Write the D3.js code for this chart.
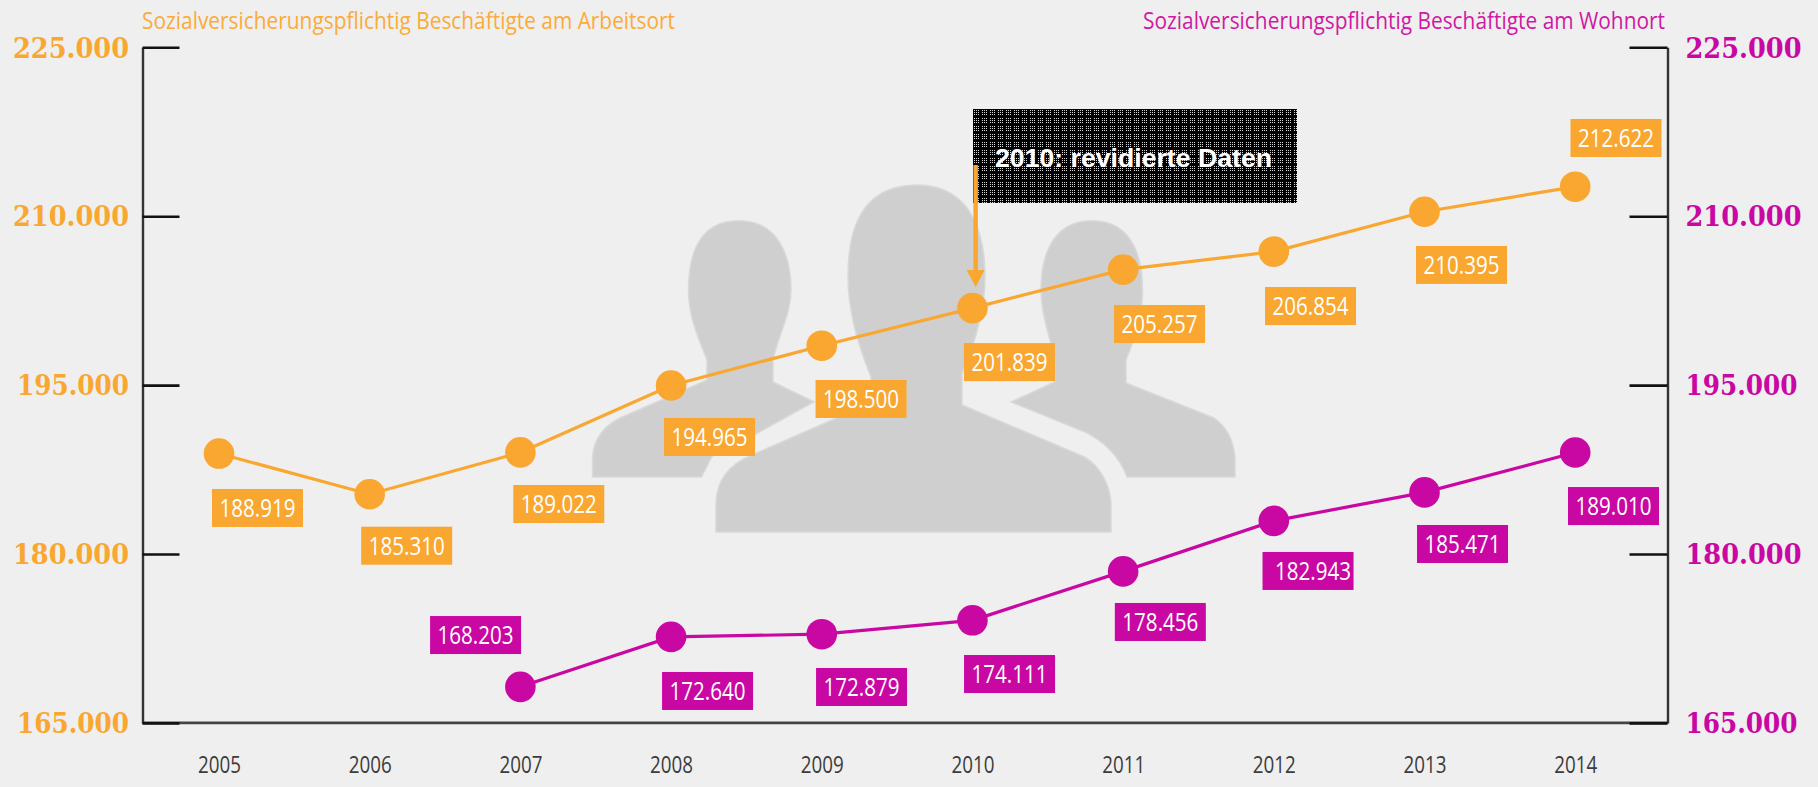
<!DOCTYPE html>
<html lang="de">
<head>
<meta charset="utf-8">
<script src="https://cdn.jsdelivr.net/npm/d3@7/dist/d3.min.js"></script>
<style>
html,body{margin:0;padding:0;background:#efefef;overflow:hidden}
svg{display:block}
text{font-family:"Open Sans","Noto Sans",sans-serif}
</style>
</head>
<body>
<svg id="chart" width="1818" height="787"></svg>
<script>
// ---- data ----
const years = [2005,2006,2007,2008,2009,2010,2011,2012,2013,2014];
const arbeitsort = [188919,185310,189022,194965,198500,201839,205257,206854,210395,212622];
const wohnort = [null,null,168203,172640,172879,174111,178456,182943,185471,189010];
const yTicks = [165000,180000,195000,210000,225000];
const titleArbeitsort = "Sozialversicherungspflichtig Beschäftigte am Arbeitsort";
const titleWohnort = "Sozialversicherungspflichtig Beschäftigte am Wohnort";
const noteText = "2010: revidierte Daten";
const noteYear = 2010;

// ---- label placement relative to each point: centre dx, box-top dy ----
const arbeitsortDx = [38.5,37,38.4,38.5,39.3,37,36.4,36.7,37,40.8];
const arbeitsortDy = [35.4,32.5,32.6,32.5,34.3,35,35.4,35.4,34.2,-67.7];
const wohnortDx = [0,0,-44.8,36.5,39.8,37.1,37.2,34.2,38,38.3];
const wohnortDy = [0,0,-70.8,35.1,33.8,34.7,31.6,31.1,32.6,34.5];
const wohnortTextShift = [0,0,0,0,0,0,0,5,0,0];

// ---- styles ----
const orange = "#f9a730", magenta = "#c908a4", bg = "#efefef", grey = "#cfcfcf";
const frame = {left:142.5, right:1667.5, top:47.3, bottom:722.9};
const boxW = 91, boxH = 38, r = 15.3;

const svg = d3.select("#chart");
svg.append("rect").attr("width",1818).attr("height",787).attr("fill",bg);

const de = d3.formatLocale({decimal:",",thousands:".",grouping:[3],currency:["","€"]});
const fmt = de.format(",");

const x = d3.scalePoint().domain(years).range([219,1575.2]);
const y = d3.scaleLinear().domain([165000,225000]).range([frame.bottom,frame.top]);

// ---- silhouettes ----
const people = [
 // left person
 "M592.5,477 L592.5,457 C594,438 604,426 620,418 L707,380 L707,360 C697,335 688.5,315 688.5,290 C688.5,262 695,220.7 738.5,220.7 C782,220.7 791,262 791,290 C791,315 778,335 773,360 L773,382 L814,401.7 L745,440 C728,447 716,452 711.7,457 L701.4,477 Z",
 // right person
 "M1235,477 L1235,457 C1233,438 1226,426 1214,418 L1126,383 L1126,360 C1136,335 1142.5,315 1142.5,290 C1142.5,262 1135,220.7 1092,220.7 C1049,220.7 1041,262 1041,290 C1041,315 1050,335 1054.5,360 L1054.5,382 L1011,402 L1084.5,431.7 C1105,442 1120,458 1127,477 Z",
 // centre person
 "M716,532 L716,503 C717,480 728,465 752,455 L871,403 L871,377 C860,350 848,315 848,277 C848,240 855,185 917,185 C975,185 985,240 985,277 C985,315 972,350 962,373 L962,405 L1084.5,457 C1100,466 1110,485 1111,503 L1111,532 Z"
];
svg.append("g").selectAll("path").data(people).join("path")
  .attr("d",d=>d).attr("fill",grey).attr("stroke","#d9d9d9").attr("stroke-width",1.5);

// baseline
svg.append("line").attr("x1",frame.left).attr("x2",frame.right)
  .attr("y1",frame.bottom).attr("y2",frame.bottom)
  .attr("stroke","#444").attr("stroke-width",2.6);

// ---- axes ----
function styleAxis(g, side){
  g.select(".domain").attr("stroke","#333").attr("stroke-width",2.4);
  g.selectAll(".tick line").attr("stroke","#111").attr("stroke-width",2.6);
  g.selectAll(".tick text")
    .attr("fill",side==="left"?orange:magenta)
    .style("font-family","'DejaVu Serif',serif")
    .style("font-weight",700)
    .style("font-size","27px")
    .attr("dy","0.36em")
    .attr("x",side==="left"?-13.5:18)
    .attr("textLength",d=>(d===165000||d===195000)?112:116)
    .attr("lengthAdjust","spacingAndGlyphs");
}
const axL = d3.axisLeft(y).tickValues(yTicks).tickFormat(fmt).tickSize(-37).tickSizeOuter(0);
const axR = d3.axisRight(y).tickValues(yTicks).tickFormat(fmt).tickSize(-38).tickSizeOuter(0);
svg.append("g").attr("transform",`translate(${frame.left},0)`).call(axL).call(styleAxis,"left");
svg.append("g").attr("transform",`translate(${frame.right},0)`).call(axR).call(styleAxis,"right");

const axB = d3.axisBottom(x).tickSize(0).tickPadding(0);
const gB = svg.append("g").attr("transform",`translate(0,${frame.bottom})`).call(axB);
gB.select(".domain").remove();
gB.selectAll(".tick text").attr("fill","#3c3c3c").style("font-size","24px").attr("y",42)
  .attr("dy","0.32em").attr("textLength",43).attr("lengthAdjust","spacingAndGlyphs");

// ---- titles ----
svg.append("text").text(titleArbeitsort).attr("x",142).attr("y",29)
  .attr("fill","#fbab38").style("font-size","24px")
  .attr("textLength",533).attr("lengthAdjust","spacingAndGlyphs");
svg.append("text").text(titleWohnort).attr("x",1143).attr("y",28.5)
  .attr("fill","#d018a4").style("font-size","24px")
  .attr("textLength",522).attr("lengthAdjust","spacingAndGlyphs");

// ---- annotation ----
const defs = svg.append("defs");
const pat = defs.append("pattern").attr("id","dither").attr("patternUnits","userSpaceOnUse")
  .attr("x",973).attr("y",109).attr("width",8).attr("height",8);
pat.append("rect").attr("width",8).attr("height",8).attr("fill","#000");
const dotPos=[1,3,5];
dotPos.forEach(a=>dotPos.forEach(b=>pat.append("rect").attr("x",a).attr("y",b).attr("width",1).attr("height",1).attr("fill","#d8d8d8")));
svg.append("rect").attr("x",973).attr("y",109).attr("width",324).attr("height",94).attr("fill","url(#dither)");
svg.append("text").text(noteText).attr("x",995).attr("y",166.5).attr("fill","#fff")
  .style("font-family","'Liberation Sans',Arial,sans-serif").style("font-weight",700).style("font-size","26px")
  .attr("textLength",277).attr("lengthAdjust","spacingAndGlyphs");

// ---- series ----
function drawSeries(values,color,dx,dy,shift){
  const pts = years.map((yr,i)=>({yr,v:values[i],i})).filter(d=>d.v!==null);
  const line = d3.line().x(d=>x(d.yr)).y(d=>y(d.v));
  svg.append("path").attr("d",line(pts)).attr("fill","none").attr("stroke",color).attr("stroke-width",3.2);
  svg.append("g").selectAll("circle").data(pts).join("circle")
    .attr("cx",d=>x(d.yr)).attr("cy",d=>y(d.v)).attr("r",r).attr("fill",color);
  const lab = svg.append("g").selectAll("g").data(pts).join("g")
    .attr("transform",d=>`translate(${x(d.yr)+dx[d.i]},${y(d.v)+dy[d.i]})`);
  lab.append("rect").attr("x",-boxW/2).attr("y",0).attr("width",boxW).attr("height",boxH).attr("fill",color);
  lab.append("text").text(d=>fmt(d.v)).attr("x",d=>shift?shift[d.i]:0).attr("y",boxH/2).attr("dy","0.36em")
    .attr("text-anchor","middle").attr("fill","#fff").style("font-size","25px")
    .attr("textLength",76).attr("lengthAdjust","spacingAndGlyphs");
}
drawSeries(arbeitsort,orange,arbeitsortDx,arbeitsortDy);
drawSeries(wohnort,magenta,wohnortDx,wohnortDy,wohnortTextShift);

// ---- arrow to the revised point ----
const ax = x(noteYear)+3.2, tipY = y(arbeitsort[years.indexOf(noteYear)])-21;
svg.append("line").attr("x1",ax).attr("x2",ax).attr("y1",165).attr("y2",tipY-10)
  .attr("stroke",orange).attr("stroke-width",4.5);
svg.append("path").attr("fill",orange)
  .attr("d",d3.line()([[ax-9,tipY-17],[ax+9,tipY-17],[ax,tipY]])+"Z");
</script>
</body>
</html>
